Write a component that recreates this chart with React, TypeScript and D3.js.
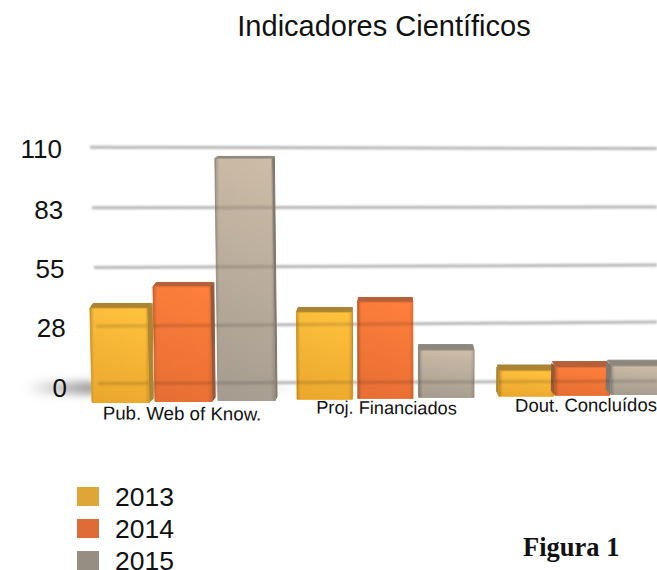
import * as d3 from "d3"

const categories = ["Pub. Web of Know.", "Proj. Financiados", "Dout. Concluídos"]
const years = ["2013", "2014", "2015"]
const values2013 = [38.5, 36, 8]
const values2014 = [48, 40.5, 9.5]
const values2015 = [106, 18, 10]
const tickValues = [0, 28, 55, 83, 110]
const seriesValues = [values2013, values2014, values2015]

const faceTop = ["#ffc23c", "#ff7f3b", "#cdbda8"]
const faceBottom = ["#eeaa2e", "#ea7034", "#a89e91"]
const roofColor = ["#a98431", "#b4603b", "#8d867c"]
const sideColor = ["#ab8530", "#94593c", "#7f786f"]
const legendColor = ["#dfa537", "#df6c37", "#968e83"]

const width = 657
const height = 570
const vanishX = 390

// the chart is a 3D picture, so the back wall tilts a little from left to right
// and the value steps get slightly wider towards the top
const yLeft = d3.scaleLinear().domain(tickValues).range([384, 327, 268, 208, 147])
const yRight = d3.scaleLinear().domain(tickValues).range([381, 322, 265, 207, 148.5])
const yBack = (v: number, x: number) => yLeft(v) + ((yRight(v) - yLeft(v)) * x) / width
const gridStart = d3.scaleLinear().domain([0, 110]).range([98, 90])
const labelRight = d3.scaleLinear().domain([0, 110]).range([67, 62])
const labelBase = d3.scaleLinear().domain(tickValues).range([397, 337, 278, 219, 158])
const floorFront = d3.scaleLinear().domain([90, 611]).range([402.5, 394.5])

const xGroup = d3.scaleBand<string>().domain(categories).range([92, 704]).paddingInner(0).paddingOuter(0)
const groupShift = [0, 1, -1]
const barWidth = [57, 55, 54.5]
const slotStep = [63, 61, 56]

const line = d3.line<[number, number]>()

const bars = categories.flatMap((cat, g) =>
  years.map((year, s) => {
    const x0 = (xGroup(cat) as number) + groupShift[g] + s * slotStep[g]
    const x1 = x0 + barWidth[g]
    const v = seriesValues[s][g]
    const backTop = yBack(v, x0)
    const roof = 0.0192 * (backTop - 53)
    const top = backTop + roof
    const base = floorFront(x0)
    const lean = (x0 - vanishX) * (base - top) * 0.000076
    const side = (vanishX - x1) * 0.022
    const sideLeft = (vanishX - x0) * 0.022
    const front: [number, number][] = [[x0 + lean, top], [x1 + lean, top], [x1, base], [x0, base]]
    const roofPts: [number, number][] = [
      [x0 + lean, top],
      [x1 + lean, top],
      [x1 + lean + Math.max(side, -3) * 0.8, backTop],
      [x0 + lean + Math.min(sideLeft, 4) * 0.8, backTop],
    ]
    const sidePts: [number, number][] =
      side > 0
        ? [[x1 + lean, top], [x1 + lean + side, backTop], [x1 + side * 0.8, base - 4], [x1, base]]
        : [[x0 + lean, top], [x0 + lean + Math.max(sideLeft, -5), backTop + 2], [x0 + Math.max(sideLeft, -5), base - 5], [x0, base]]
    return { key: `${cat}-${year}`, s, front, roofPts, sidePts }
  }),
)

const gridPath = (v: number) =>
  line([
    [gridStart(v), yBack(v, gridStart(v))],
    [width, yBack(v, width)],
  ]) as string

export default function App() {
  return (
    <svg
      width={width}
      height={height}
      style={{ position: "absolute", left: 0, top: 0, background: "#fff", fontFamily: "'Liberation Sans', Arial, sans-serif" }}
    >
      <defs>
        <filter id="soft" x="-5%" y="-400%" width="110%" height="900%" filterUnits="objectBoundingBox">
          <feGaussianBlur stdDeviation="0.8" />
        </filter>
        <filter id="barSoft" x="-10%" y="-10%" width="120%" height="120%">
          <feGaussianBlur stdDeviation="0.45" />
        </filter>
        <filter id="shadowBlur" x="-30%" y="-150%" width="160%" height="400%">
          <feGaussianBlur stdDeviation="4" />
        </filter>
        <linearGradient id="floorShade" x1="0" x2="1" y1="0" y2="0">
          <stop offset="0" stopColor="#888" stopOpacity="0" />
          <stop offset="0.22" stopColor="#888" stopOpacity="0.85" />
          <stop offset="1" stopColor="#aaa" stopOpacity="0" />
        </linearGradient>
        {faceTop.map((c, i) => (
          <linearGradient key={c} id={`face${i}`} x1="0" x2="0" y1="0" y2="1">
            <stop offset="0" stopColor={c} />
            <stop offset="1" stopColor={faceBottom[i]} />
          </linearGradient>
        ))}
        <linearGradient id="edges" x1="0" x2="1" y1="0" y2="0">
          <stop offset="0" stopColor="#000" stopOpacity="0.22" />
          <stop offset="0.07" stopColor="#000" stopOpacity="0.02" />
          <stop offset="0.93" stopColor="#000" stopOpacity="0" />
          <stop offset="1" stopColor="#000" stopOpacity="0.12" />
        </linearGradient>
        <clipPath id="barFronts">
          {bars.map((b) => (
            <path key={b.key} d={line(b.front) + "Z"} />
          ))}
        </clipPath>
      </defs>

      <text x={384} y={36} textAnchor="middle" fontSize={29} fill="#111">
        Indicadores Científicos
      </text>

      <rect x={25} y={382} width={280} height={12} fill="url(#floorShade)" filter="url(#shadowBlur)" />

      {tickValues.map((t) => (
        <path key={t} d={gridPath(t)} stroke="#b6b6b6" strokeWidth={3} fill="none" filter="url(#soft)" />
      ))}

      {tickValues.map((t) => (
        <text key={t} x={labelRight(t)} y={labelBase(t)} textAnchor="end" fontSize={26} fill="#111">
          {t}
        </text>
      ))}

      <g filter="url(#barSoft)">
        {bars.map((b) => (
          <g key={b.key}>
            <path d={line(b.sidePts) + "Z"} fill={sideColor[b.s]} stroke={sideColor[b.s]} strokeWidth={1} strokeLinejoin="round" />
            <path d={line(b.roofPts) + "Z"} fill={roofColor[b.s]} stroke={roofColor[b.s]} strokeWidth={1} strokeLinejoin="round" />
            <path d={line(b.front) + "Z"} fill={`url(#face${b.s})`} stroke={faceBottom[b.s]} strokeWidth={1} strokeLinejoin="round" />
            <path d={line(b.front) + "Z"} fill="url(#edges)" />
          </g>
        ))}
      </g>

      {/* grid shows faintly through the glassy bars */}
      <g clipPath="url(#barFronts)">
        {tickValues.map((t) => (
          <path key={t} d={gridPath(t)} stroke="#000" strokeOpacity={0.15} strokeWidth={3} fill="none" filter="url(#soft)" />
        ))}
      </g>

      <text x={182} y={420} textAnchor="middle" fontSize={18.7} fill="#111" transform="rotate(0.4 182 420)">
        {categories[0]}
      </text>
      <text x={386.5} y={414} textAnchor="middle" fontSize={18.2} fill="#111" transform="rotate(0.4 386 414)">
        {categories[1]}
      </text>
      <text x={586} y={411.5} textAnchor="middle" fontSize={18.5} fill="#111" transform="rotate(-0.3 586 411)">
        {categories[2]}
      </text>

      {years.map((y, i) => (
        <g key={y} transform={`translate(0,${i * 32})`}>
          <rect x={77} y={487} width={22} height={19} fill={legendColor[i]} />
          <text x={115} y={505.5} fontSize={26.5} fill="#111">
            {y}
          </text>
        </g>
      ))}

      <text x={523} y={556} fontFamily="'Liberation Serif', 'Times New Roman', serif" fontWeight="bold" fontSize={26.5} fill="#111">
        Figura 1
      </text>
    </svg>
  )
}
